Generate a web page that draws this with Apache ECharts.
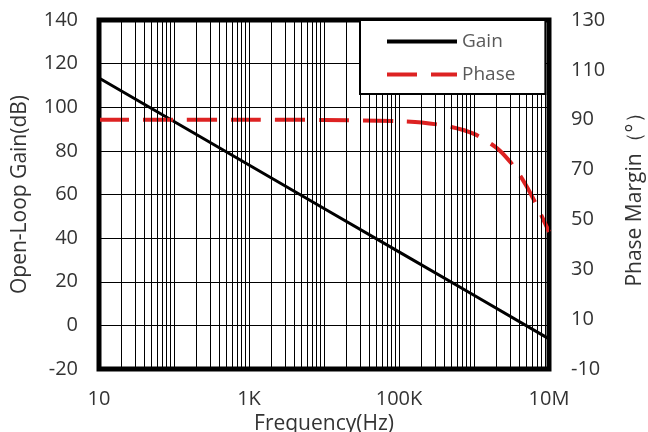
<!DOCTYPE html>
<html>
<head>
<meta charset="utf-8">
<script src="https://cdn.jsdelivr.net/npm/echarts@6/dist/echarts.min.js"></script>
<style>html,body{margin:0;padding:0;background:#fff}#c{width:648px;height:432px}</style>
</head>
<body>
<div id="c"></div>
<script>
// ---- data ----
const gainFreq = [10, 100, 1000, 10000, 100000, 1000000, 10000000];
const gainDb = [113.4, 93.5, 73.5, 53.6, 33.7, 13.8, -6.2];
const phaseFreq = [10, 100, 1000, 10000, 100000, 200000, 500000, 1000000, 2000000, 3000000, 4000000, 5000000, 6000000, 7000000, 8000000, 9000000, 10000000];
const phaseDeg = [90, 90, 90, 89.9, 89.4, 88.9, 87.1, 84.3, 78.7, 73.3, 68.2, 63.4, 59.0, 55.0, 51.3, 48.0, 45.0];
const xTickLabels = {1: '10', 3: '1K', 5: '100K', 7: '10M'};
const gridFreqs = [];
[10, 100, 1000, 10000, 100000, 1000000].forEach(d => { for (let k = 1; k <= 9; k++) gridFreqs.push(d * k); });
gridFreqs.push(10000000);

const FONT = 'Open Sans';
const chart = echarts.init(document.getElementById('c'), null, {renderer: 'canvas'});
chart.setOption({
  animation: false,
  backgroundColor: '#fff',
  textStyle: {fontFamily: FONT},
  grid: {left: 99, right: 99, top: 20, bottom: 63, show: true, borderColor: '#000', borderWidth: 5,
         backgroundColor: 'transparent', containLabel: false, outerBoundsMode: 'none'},
  legend: {
    data: [
      {name: 'Gain', icon: 'path://M0,0H70V4H0Z'},
      {name: 'Phase', icon: 'path://M0,0H30V4H0Z M44,0H70V4H44Z'}
    ],
    orient: 'vertical',
    left: 360, top: 20,
    backgroundColor: '#fff', borderColor: '#000', borderWidth: 2,
    padding: [12, 30, 10, 27],
    itemWidth: 70, itemHeight: 4, itemGap: 14,
    textStyle: {color: '#595959', fontSize: 19, fontFamily: FONT},
    z: 10
  },
  xAxis: {
    type: 'log', logBase: 10, min: 10, max: 10000000,
    name: 'Frequency(Hz)', nameLocation: 'middle', nameGap: 44,
    nameTextStyle: {fontSize: 21, color: '#333', fontFamily: FONT},
    axisLine: {show: false}, axisTick: {show: false},
    splitLine: {show: false},
    axisLabel: {
      margin: 20, fontSize: 20, color: '#333', fontFamily: FONT,
      formatter: v => xTickLabels[Math.round(Math.log10(v))] || ''
    }
  },
  yAxis: [{
    type: 'value', min: -20, max: 140, interval: 20, position: 'left',
    name: 'Open-Loop Gain(dB)', nameLocation: 'middle', nameGap: 68,
    nameTextStyle: {fontSize: 21, color: '#333', fontFamily: FONT},
    axisLine: {show: false}, axisTick: {show: false},
    axisLabel: {margin: 21, fontSize: 20, color: '#333', fontFamily: FONT},
    splitLine: {show: true, lineStyle: {color: '#000', width: 1}}
  }, {
    type: 'value', min: -10, max: 130, interval: 10, position: 'right',
    name: 'Phase Margin（°）', nameLocation: 'middle', nameGap: 76,
    nameTextStyle: {fontSize: 21, color: '#333', fontFamily: FONT},
    axisLine: {show: false}, axisTick: {show: false},
    axisLabel: {margin: 22, fontSize: 20, color: '#333', fontFamily: FONT,
      formatter: v => ((Math.round(v) + 10) % 20 === 0 ? String(Math.round(v)) : '')},
    splitLine: {show: false}
  }],
  series: [{
    type: 'line', data: [], z: 1, silent: true,
    markLine: {
      silent: true, symbol: ['none', 'none'], label: {show: false},
      emphasis: {disabled: true},
      lineStyle: {color: '#000', width: 1, type: 'solid'},
      data: gridFreqs.map(v => ({xAxis: v}))
    }
  }, {
    name: 'Gain', type: 'line', yAxisIndex: 0, z: 3,
    data: gainFreq.map((f, i) => [f, gainDb[i]]),
    symbol: 'none', lineStyle: {color: '#000', width: 3}, itemStyle: {color: '#000'}
  }, {
    name: 'Phase', type: 'line', yAxisIndex: 1, z: 4, smooth: 0.3,
    data: phaseFreq.map((f, i) => [f, phaseDeg[i]]),
    symbol: 'none', lineStyle: {color: '#dd2222', width: 4, type: [30, 14]}, itemStyle: {color: '#dd2222'}
  }]
});
</script>
</body>
</html>
